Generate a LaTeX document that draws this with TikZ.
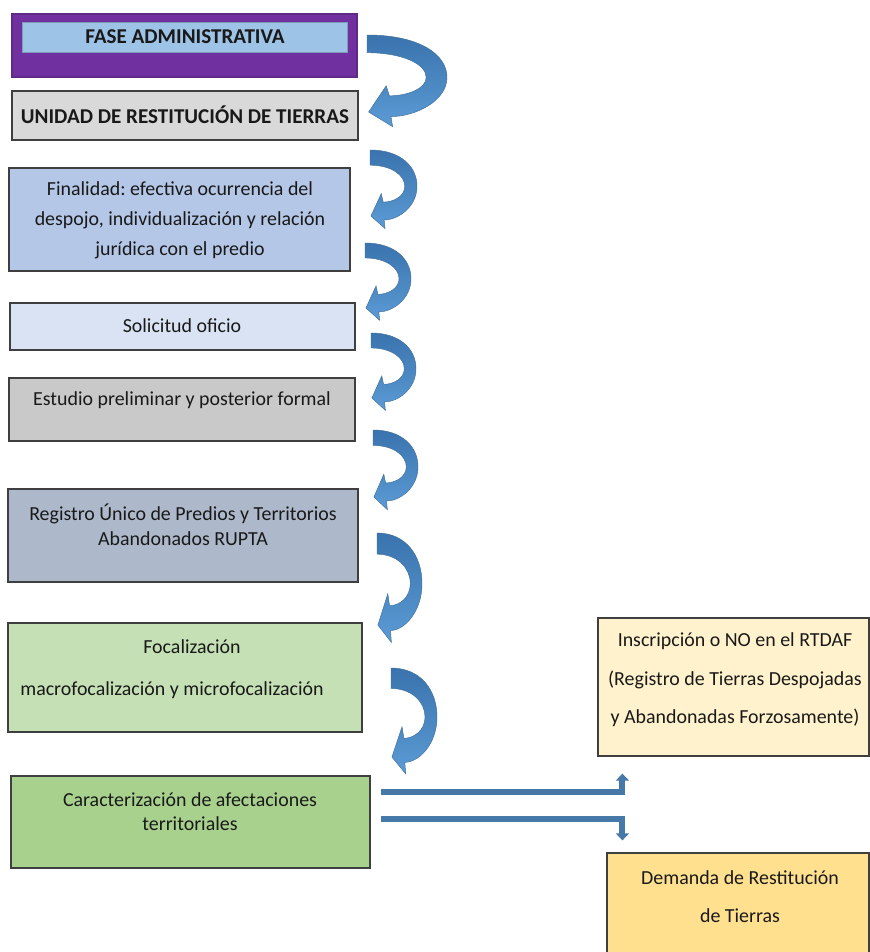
\documentclass[tikz,border=0pt]{standalone}
\usepackage{fontspec}
\setmainfont{Carlito}
\usetikzlibrary{arrows.meta,calc}

\definecolor{fasepurple}{HTML}{7030A0}
\definecolor{faseblue}{HTML}{9DC3E6}
\definecolor{unigray}{HTML}{D9D9D9}
\definecolor{finblue}{HTML}{B4C7E7}
\definecolor{solblue}{HTML}{DAE3F3}
\definecolor{estgray}{HTML}{C9C9C9}
\definecolor{regblue}{HTML}{ADB9CA}
\definecolor{focgreen}{HTML}{C5E0B4}
\definecolor{cargreen}{HTML}{A9D18E}
\definecolor{insyellow}{HTML}{FFF2CC}
\definecolor{demyellow}{HTML}{FFE08F}
\definecolor{arrowdark}{HTML}{3A73AD}
\definecolor{arrowlight}{HTML}{5B9BD5}
\definecolor{arrowline}{HTML}{41719C}
\definecolor{boxline}{HTML}{3F3F3F}

\newcommand{\px}[1]{#1*0.03cm}

% curved arrow: start (x,y), bulge width, height
\newcommand{\bendarrow}[4]{%
  \begin{scope}[shift={(#1,#2)}, xscale=#3, yscale=#4]
    \shadedraw[top color=arrowdark, bottom color=arrowlight, draw=arrowline, line width=0.4pt]
      (0,0) -- (0,0.23) .. controls (0.45,0.23) and (0.74,0.38) .. (0.74,0.55)
      .. controls (0.74,0.7) and (0.5,0.79) .. (0.28,0.79) -- (0.24,0.66) -- (0.02,1)
      -- (0.32,1.19) -- (0.3,1.06) .. controls (0.6,1.06) and (1,0.86) .. (1,0.55)
      .. controls (1,0.25) and (0.65,0) .. (0,0) -- cycle;
  \end{scope}}

\tikzset{
  box/.style={draw=boxline, line width=1pt, inner sep=0pt},
  txt/.style={font=\fontsize{17}{20}\selectfont, text=black!90, align=center, inner sep=0pt},
  flow/.style={draw=arrowline!80!arrowlight, line width=5pt, -{Triangle[width=11pt,length=6pt]}}
}

\begin{document}
\frenchspacing
\begin{tikzpicture}[x=0.03cm, y=-0.03cm]
  \clip (0,0) rectangle (870,952);
  \fill[white] (0,0) rectangle (870,952);

  \node[box, draw=fasepurple!85!black, fill=fasepurple, minimum width=\px{345}, minimum height=\px{63}] (fase) at (184.5,45.5) {};
  \node[box, draw=faseblue!80!black, line width=0.5pt, fill=faseblue, minimum width=\px{325}, minimum height=\px{30}] (faseIn) at (184.5,37) {};
  \node[box, fill=unigray, minimum width=\px{346}, minimum height=\px{49}] (uni) at (185,115.5) {};
  \node[box, fill=finblue, minimum width=\px{341}, minimum height=\px{103}] (fin) at (179.5,219.5) {};
  \node[box, fill=solblue, minimum width=\px{345}, minimum height=\px{47}] (sol) at (182.5,326.5) {};
  \node[box, fill=estgray, minimum width=\px{346}, minimum height=\px{63}] (est) at (182,409.5) {};
  \node[box, fill=regblue, minimum width=\px{350}, minimum height=\px{93}] (reg) at (183,535.5) {};
  \node[box, fill=focgreen, minimum width=\px{354}, minimum height=\px{109}] (foc) at (185,677.5) {};
  \node[box, fill=cargreen, minimum width=\px{359}, minimum height=\px{92}] (car) at (190.5,822) {};
  \node[box, fill=insyellow, minimum width=\px{271}, minimum height=\px{138}] (ins) at (733.5,687) {};
  \node[box, fill=demyellow, minimum width=\px{262}, minimum height=\px{112}] (dem) at (738,909) {};

  \node[txt, font=\fontsize{18}{20}\selectfont\bfseries] (faseT) at (185,37) {FASE ADMINISTRATIVA};
  \node[txt, font=\fontsize{18}{20}\selectfont\bfseries] (uniT) at (185,115) {UNIDAD DE RESTITUCIÓN DE TIERRAS};
  \node[txt, font=\fontsize{17}{25.6}\selectfont] (finT) at (180,220) {Finalidad: efectiva ocurrencia del\\despojo, individualización y relación\\jurídica con el predio};
  \node[txt] (solT) at (182,326) {Solicitud oficio};
  \node[txt] (estT) at (182,400) {Estudio preliminar y posterior formal};
  \node[txt, font=\fontsize{17}{21.3}\selectfont] (regT) at (183,524.5) {Registro Único de Predios y Territorios\\Abandonados RUPTA};
  \node[txt] (focT1) at (192,647) {Focalización};
  \node[txt] (focT2) at (172,690) {macrofocalización y microfocalización};
  \node[txt, font=\fontsize{17}{20.5}\selectfont] (carT) at (190,812) {Caracterización de afectaciones\\territoriales};
  \node[txt, font=\fontsize{17}{33}\selectfont] (insT) at (735,680) {Inscripción o NO en el RTDAF\\(Registro de Tierras Despojadas\\y Abandonadas Forzosamente)};
  \node[txt, font=\fontsize{17}{33}\selectfont] (demT) at (740,896.5) {Demanda de Restitución\\de Tierras};

  \bendarrow{367}{35}{80}{77}
  \bendarrow{370}{150}{47}{66}
  \bendarrow{365}{243}{46}{65}
  \bendarrow{371}{333}{45}{65}
  \bendarrow{373}{430}{45}{67}
  \bendarrow{377}{533}{45}{92}
  \bendarrow{391}{668}{46}{89}

  \coordinate (insIn) at ($(ins.south west)+(25,17)$);
  \coordinate (demIn) at ($(dem.north west)+(16,-12)$);
  \draw[flow] ($(car.east)+(10,-30)$) -| (insIn);
  \draw[flow] ($(car.east)+(10,-3)$) -| (demIn);
\end{tikzpicture}
\end{document}
